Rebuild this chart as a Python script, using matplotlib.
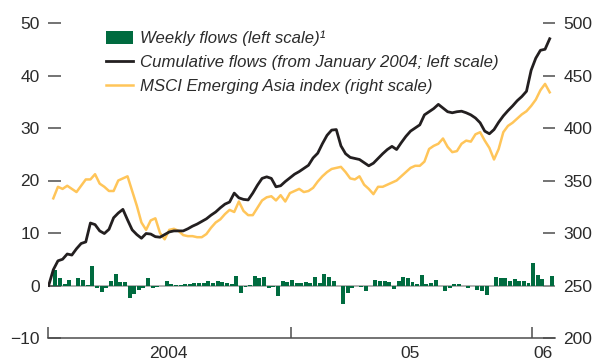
import numpy as np
import pandas as pd
import matplotlib
matplotlib.use("Agg")
import matplotlib.pyplot as plt
import matplotlib.dates as mdates
from matplotlib.patches import Patch
from matplotlib.lines import Line2D
from matplotlib.ticker import FixedLocator, NullFormatter

plt.rcParams['font.family'] = ['Liberation Sans Narrow', 'Liberation Sans', 'DejaVu Sans']

# weekly observations, first week of 2004 onwards
weeks = pd.date_range("2004-01-02", periods=109, freq="7D")

# weekly flows, billions of US dollars (left scale)
weekly_flows = [
    0.0,
    3.0, 1.5, 0.3, 1.0, -0.1, 1.5, 1.1, 0.05, 3.7, -0.4,
    -1.3, -0.4, 0.8, 2.2, 0.7, 0.7, -2.4, -1.6, -0.8, -0.5,
    1.5, -0.5, -0.3, 0.0, 0.8, 0.3, 0.05, 0.05, 0.3, 0.3,
    0.45, 0.45, 0.5, 0.8, 0.45, 0.8, 0.6, 0.45, 0.3, 1.9,
    -1.4, -0.2, 0.05, 1.9, 1.4, 1.6, -0.4, -0.2, -2.0, 0.8,
    0.7, 1.1, 0.5, 0.5, 0.6, 0.5, 1.6, 0.5, 2.2, 1.7,
    0.8, -0.1, -3.5, -1.5, -0.5, -0.1, -0.3, -1.0, 0.0, 1.1,
    0.9, 0.8, 0.6, -0.6, 0.9, 1.6, 1.4, 0.6, 0.25, 2.0,
    0.25, 0.4, 1.1, 0.0, -1.0, -0.5, 0.2, 0.2, -0.1, -0.4,
    -0.1, -0.8, -1.0, -1.9, 0.0, 1.6, 1.5, 1.5, 0.8, 1.3,
    0.9, 0.9, 0.5, 4.3, 2.0, 1.3, 0.0, 1.8,
]

# cumulative flows since January 2004 (left scale)
cumulative_flows = [
    0.0,
    3.0, 4.7, 5.0, 6.0, 5.8, 7.0, 8.0, 8.3, 11.9, 11.6,
    10.4, 9.9, 10.7, 12.9, 13.8, 14.5, 12.5, 10.6, 9.7, 9.0,
    9.9, 9.8, 9.3, 9.2, 9.7, 10.2, 10.4, 10.4, 10.4, 10.8,
    11.3, 11.7, 12.2, 12.7, 13.4, 14.0, 14.8, 15.5, 15.9, 17.6,
    16.7, 16.4, 16.3, 17.6, 19.1, 20.4, 20.7, 20.4, 18.8, 19.0,
    19.8, 20.5, 21.2, 21.7, 22.3, 22.9, 24.3, 25.2, 27.0, 28.6,
    29.6, 29.7, 26.6, 25.1, 24.4, 24.2, 24.0, 23.4, 22.8, 23.3,
    24.2, 25.1, 25.9, 26.5, 25.9, 27.2, 28.4, 29.4, 30.0, 30.6,
    32.5, 33.1, 33.7, 34.5, 33.8, 33.1, 32.9, 33.1, 33.2, 32.9,
    32.5, 31.9, 31.0, 29.4, 28.9, 29.7, 31.1, 32.3, 33.3, 34.2,
    35.2, 36.0, 37.0, 41.0, 43.3, 44.8, 45.0, 47.0,
]

# MSCI Emerging Asia index (right scale)
msci_asia = [
    np.nan,
    333, 344, 342, 345, 342, 339, 345, 351, 351, 356,
    347, 344, 340, 340, 350, 352, 354, 340, 326, 310,
    303, 312, 314, 300, 294, 303, 304, 302, 298, 297,
    297, 296, 296, 299, 305, 310, 313, 318, 322, 320,
    330, 321, 317, 317, 324, 331, 334, 335, 331, 336,
    330, 338, 340, 342, 339, 340, 343, 349, 354, 358,
    361, 362, 363, 358, 352, 351, 354, 346, 342, 337,
    344, 344, 346, 348, 350, 354, 358, 362, 364, 364,
    368, 380, 383, 385, 390, 382, 377, 378, 385, 388,
    387, 394, 396, 388, 381, 370, 380, 396, 402, 405,
    409, 413, 416, 421, 427, 436, 442, 434,
]

GREEN = "#006B3F"
BLACK = "#231F20"
GOLD = "#FFC559"
GREY = "#4D4D4D"
TEXT = "#2B2B2B"

fig = plt.figure(figsize=(5.92, 3.63), dpi=100)
ax = fig.add_axes([48 / 592, 1 - 338 / 363, 507 / 592, 315 / 363])
ax2 = ax.twinx()

# keep the left-scale lines above the index line
ax.set_zorder(ax2.get_zorder() + 1)
ax.patch.set_visible(False)

ax.axhline(0, color="#9A9A9A", lw=1.1, zorder=1)
ax.bar(weeks[1:], weekly_flows[1:], width=6, align="edge", color=GREEN, zorder=2)
ax.plot(weeks, cumulative_flows, color=BLACK, lw=2.0, zorder=3)
ax2.plot(weeks, msci_asia, color=GOLD, lw=1.8)

ax.set_xlim(pd.Timestamp("2004-01-01"), pd.Timestamp("2006-02-04"))
ax.set_ylim(-10, 50)
ax2.set_ylim(200, 500)
ax.set_yticks(range(-10, 51, 10))
ax2.set_yticks(range(200, 501, 50))

for a in (ax, ax2):
    for s in ("top", "left", "right", "bottom"):
        a.spines[s].set_visible(False)
ax.spines["bottom"].set_visible(True)
ax.spines["bottom"].set_color(GREY)
ax.spines["bottom"].set_linewidth(1.1)

for a in (ax, ax2):
    a.tick_params(axis="y", direction="in", length=9, width=1.1, color=GREY,
                  pad=6, labelsize=12.5, labelcolor=TEXT)

# year boundaries as ticks, year names centred between them
year_edges = pd.to_datetime(["2004-01-01", "2005-01-01", "2006-01-01"])
year_mids = pd.to_datetime(["2004-07-01", "2005-07-01", "2006-01-17"])
ax.xaxis.set_major_locator(FixedLocator(mdates.date2num(year_edges)))
ax.xaxis.set_major_formatter(NullFormatter())
ax.xaxis.set_minor_locator(FixedLocator(mdates.date2num(year_mids)))
ax.set_xticklabels(["2004", "05", "06"], minor=True)
ax.tick_params(axis="x", which="major", direction="in", length=8, width=1.1, color=GREY)
ax.tick_params(axis="x", which="minor", length=0, pad=6, labelsize=12.5, labelcolor=TEXT)

handles = [
    Patch(facecolor=GREEN, edgecolor="none"),
    Line2D([], [], color=BLACK, lw=2.0),
    Line2D([], [], color=GOLD, lw=1.8),
]
labels = [
    "Weekly flows (left scale)\u00b9",
    "Cumulative flows (from January 2004; left scale)",
    "MSCI Emerging Asia index (right scale)",
]
fig.legend(handles, labels, loc="upper left", bbox_to_anchor=(106 / 592, 1 - 31 / 363),
           frameon=False, prop={"style": "italic", "size": 12.1},
           handlelength=1.6, handleheight=0.75, handletextpad=0.45,
           labelspacing=0.52, borderaxespad=0, borderpad=0, labelcolor=TEXT)

fig.savefig("out.png", dpi=100)
